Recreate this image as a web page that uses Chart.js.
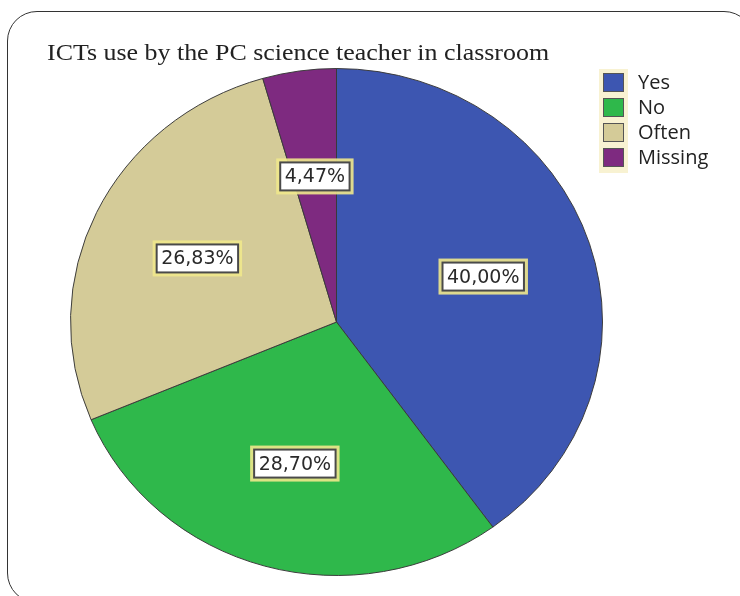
<!DOCTYPE html>
<html>
<head>
<meta charset="utf-8">
<script src="https://cdn.jsdelivr.net/npm/chart.js@4.4.0/dist/chart.umd.min.js"></script>
<style>
  html, body { margin: 0; padding: 0; background: #fff; overflow: hidden; }
  #wrap { position: relative; width: 740px; height: 596px; }
  #frame {
    position: absolute; left: 7px; top: 11px; width: 745px; height: 590px;
    border: 1.5px solid #333; border-radius: 30px; pointer-events: none;
  }
  #box { position: absolute; left: 0; top: 0; width: 740px; height: 596px; }
</style>
</head>
<body>
<div id="wrap">
  <div id="box"><canvas id="myChart"></canvas></div>
  <div id="frame"></div>
</div>
<script>
// data
const categories = ['Yes', 'No', 'Often', 'Missing'];
const percents = [40.00, 28.70, 26.83, 4.47];
const sliceColors = ['#3d56b1', '#2fb84b', '#d4cb98', '#7e2a80'];
const chartTitle = 'ICTs use by the PC science teacher in classroom';

// the original pie is a bit squashed vertically
const squash = 0.953;
const pieCenterY = 322;

function mapY(chart, y) {
  const a = chart.chartArea;
  const cy = (a.top + a.bottom) / 2;
  return pieCenterY + (y - cy) * squash;
}

const squashPie = {
  id: 'squashPie',
  beforeDatasetsDraw(chart) {
    const a = chart.chartArea;
    const cy = (a.top + a.bottom) / 2;
    const ctx = chart.ctx;
    ctx.save();
    ctx.translate(0, pieCenterY);
    ctx.scale(1, squash);
    ctx.translate(0, -cy);
  },
  afterDatasetsDraw(chart) {
    chart.ctx.restore();
    // percent boxes on the slices
    const ctx = chart.ctx;
    const arcs = chart.getDatasetMeta(0).data;
    ctx.save();
    ctx.font = '19px "DejaVu Sans"';
    ctx.textAlign = 'center';
    ctx.textBaseline = 'middle';
    arcs.forEach((arc, i) => {
      const p = arc.getProps(['x', 'y', 'startAngle', 'endAngle', 'outerRadius'], true);
      const mid = (p.startAngle + p.endAngle) / 2;
      const r = p.outerRadius * 0.58;
      const cx = p.x + Math.cos(mid) * r;
      const cy = mapY(chart, p.y + Math.sin(mid) * r);
      const txt = percents[i].toFixed(2).replace('.', ',') + '%';
      const w = ctx.measureText(txt).width + 9;
      const h = 28;
      ctx.strokeStyle = 'rgba(240,232,140,0.9)';
      ctx.lineWidth = 6;
      ctx.strokeRect(cx - w / 2 - 1, cy - h / 2 - 1, w + 2, h + 2);
      ctx.fillStyle = '#fff';
      ctx.fillRect(cx - w / 2, cy - h / 2, w, h);
      ctx.strokeStyle = '#4a4a4a';
      ctx.lineWidth = 2;
      ctx.strokeRect(cx - w / 2, cy - h / 2, w, h);
      ctx.fillStyle = '#2a2a2a';
      ctx.fillText(txt, cx, cy + 1);
    });
    ctx.restore();
  }
};

// title + legend
const extras = {
  id: 'extras',
  afterDraw(chart) {
    const ctx = chart.ctx;
    ctx.save();
    ctx.fillStyle = '#222';
    ctx.font = '24px "Liberation Serif"';
    ctx.textAlign = 'left';
    ctx.textBaseline = 'alphabetic';
    ctx.translate(47, 60);
    ctx.scale(1.08, 1);
    ctx.fillText(chartTitle, 0, 0);
    ctx.restore();

    ctx.save();
    const lx = 603, ly = 73, step = 25;
    ctx.fillStyle = '#f8f2d2';
    ctx.fillRect(lx - 4, ly - 4, 29, step * categories.length + 4);
    ctx.font = '20px "Open Sans"';
    ctx.textBaseline = 'middle';
    categories.forEach((c, i) => {
      const y = ly + i * step;
      ctx.fillStyle = sliceColors[i];
      ctx.fillRect(lx, y, 21, 19);
      ctx.strokeStyle = '#555';
      ctx.lineWidth = 1;
      ctx.strokeRect(lx + 0.5, y + 0.5, 20, 18);
      ctx.fillStyle = '#222';
      ctx.fillText(c, 638, y + 10);
    });
    ctx.restore();
  }
};

const data = {
  labels: categories,
  datasets: [{
    data: percents,
    backgroundColor: sliceColors,
    borderColor: '#3a3a3a',
    borderWidth: 1
  }]
};

const config = {
  type: 'pie',
  data,
  options: {
    responsive: true,
    maintainAspectRatio: false,
    animation: false,
    layout: { padding: { left: 70, right: 137, top: 30, bottom: 33 } },
    plugins: {
      legend: { display: false },
      tooltip: { enabled: false }
    }
  },
  plugins: [squashPie, extras]
};

const myChart = new Chart(document.getElementById('myChart'), config);
</script>
</body>
</html>
